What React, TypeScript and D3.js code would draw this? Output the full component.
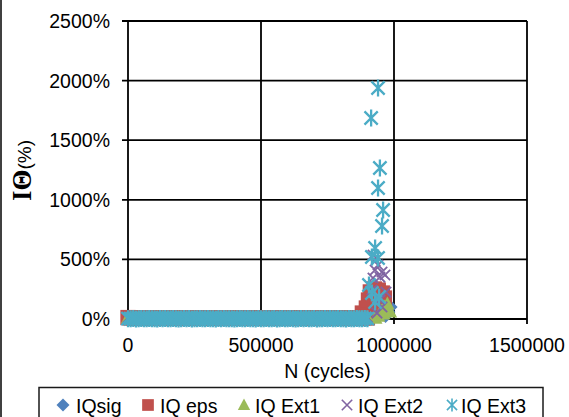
import React from "react";
import * as d3 from "d3";

const W = 569;
const H = 417;

const seriesNames = ["IQsig", "IQ eps", "IQ Ext1", "IQ Ext2", "IQ Ext3"];
const seriesColors = ["#4F81BD", "#C0504D", "#9BBB59", "#8064A2", "#4BACC6"];
const seriesShapes = ["diamond", "square", "triangle", "x", "asterisk"];

const xTicks = [0, 500000, 1000000, 1500000];
const yTicks = [0, 500, 1000, 1500, 2000, 2500];

// cycles sampled before failure (shared by all series)
const bandCycles = [
  0, 10000, 20000, 30000, 40000, 50000, 60000, 70000, 80000, 90000,
  100000, 110000, 120000, 130000, 140000, 150000, 160000, 170000, 180000, 190000,
  200000, 210000, 220000, 230000, 240000, 250000, 260000, 270000, 280000, 290000,
  300000, 310000, 320000, 330000, 340000, 350000, 360000, 370000, 380000, 390000,
  400000, 410000, 420000, 430000, 440000, 450000, 460000, 470000, 480000, 490000,
  500000, 510000, 520000, 530000, 540000, 550000, 560000, 570000, 580000, 590000,
  600000, 610000, 620000, 630000, 640000, 650000, 660000, 670000, 680000, 690000,
  700000, 710000, 720000, 730000, 740000, 750000, 760000, 770000, 780000, 790000,
  800000, 810000, 820000, 830000, 840000, 850000, 860000, 870000, 880000, 890000,
  900000,
];

const sigBand = [
  8, 10, 7, 12, 9, 11, 6, 10, 8, 13,
  9, 7, 11, 10, 8, 12, 9, 6, 10, 11,
  8, 9, 12, 7, 10, 8, 11, 9, 13, 10,
  7, 9, 11, 8, 10, 12, 9, 7, 10, 8,
  11, 13, 9, 10, 8, 7, 11, 10, 9, 12,
  8, 10, 7, 11, 9, 8, 12, 10, 9, 11,
  7, 8, 10, 13, 9, 11, 8, 10, 7, 9,
  12, 10, 8, 11, 9, 10, 7, 12, 8, 9,
  11, 10, 13, 8, 9, 10, 7, 11, 12, 9,
  10,
];
const epsBand = [
  12, 9, 10, 8, 9, 10, 11, 9, 8, 9,
  10, 9, 8, 9, 10, 11, 9, 10, 8, 9,
  10, 11, 9, 8, 10, 9, 10, 9, 8, 9,
  10, 11, 9, 8, 10, 9, 11, 10, 9, 8,
  10, 11, 9, 10, 8, 9, 10, 11, 9, 8,
  10, 9, 11, 10, 9, 8, 10, 11, 9, 10,
  8, 9, 11, 10, 9, 8, 10, 11, 9, 10,
  8, 9, 10, 11, 9, 8, 10, 9, 11, 10,
  9, 8, 10, 11, 9, 10, 8, 9, 10, 11,
  9,
];
const ext1Band = [
  10, 8, 12, 9, 13, 9, 11, 7, 12, 10,
  9, 12, 9, 13, 8, 11, 10, 12, 9, 12,
  9, 13, 8, 11, 10, 12, 9, 12, 9, 11,
  8, 10, 13, 9, 12, 9, 11, 10, 13, 9,
  12, 9, 10, 12, 8, 11, 9, 13, 10, 9,
  11, 12, 9, 8, 12, 10, 9, 13, 11, 9,
  12, 8, 10, 12, 9, 11, 9, 13, 10, 12,
  9, 11, 12, 9, 10, 8, 12, 13, 9, 11,
  10, 9, 12, 9, 12, 11, 8, 10, 13, 9,
  11,
];
const ext2Band = [
  12, 9, 14, 10, 13, 8, 11, 15, 10, 12,
  9, 13, 11, 14, 8, 12, 10, 15, 11, 9,
  13, 10, 12, 8, 14, 11, 9, 13, 12, 10,
  11, 14, 9, 12, 10, 13, 8, 11, 15, 10,
  12, 9, 13, 11, 10, 14, 12, 8, 11, 13,
  10, 12, 15, 9, 11, 13, 10, 12, 8, 14,
  11, 10, 13, 12, 9, 14, 11, 10, 12, 13,
  9, 11, 14, 10, 12, 8, 13, 11, 10, 15,
  12, 10, 9, 13, 11, 14, 10, 12, 9, 11,
  13,
];
const ext3Band = [
  3, 2, 4, 1, 3, 5, 2, 3, 4, 2,
  3, 1, 4, 2, 5, 3, 2, 4, 3, 1,
  2, 4, 3, 5, 1, 3, 2, 4, 2, 3,
  4, 2, 3, 1, 5, 3, 4, 2, 3, 2,
  1, 3, 4, 2, 3, 5, 2, 3, 1, 4,
  3, 2, 5, 3, 2, 4, 1, 3, 4, 2,
  3, 4, 2, 1, 3, 5, 2, 4, 3, 2,
  4, 1, 3, 2, 4, 3, 5, 2, 3, 4,
  2, 3, 1, 4, 3, 2, 5, 3, 2, 4,
  3,
];

// points around failure
const sigFailCycles = [905000, 930000, 950000, 968000, 979000, 987000];
const sigFailValues = [20, 35, 50, 25, 59, 101];

const epsFailCycles = [881000, 896000, 904000, 911000, 920000, 926000, 935000, 941000, 949000, 956000, 960000, 964000];
const epsFailValues = [50, 92, 159, 227, 200, 252, 180, 243, 92, 218, 134, 176];

const ext1FailCycles = [930000, 941000, 952000, 960000, 964000, 971000, 975000, 985000];
const ext1FailValues = [8, 25, 67, 42, 101, 76, 126, 60];

const ext2FailCycles = [917000, 921000, 921000, 929000, 936000, 940000, 947000, 947000, 955000, 955000, 966000, 970000];
const ext2FailValues = [243, 537, 344, 411, 50, 453, 352, 159, 394, 101, 369, 226];

const ext3FailCycles = [906000, 914000, 917000, 917000, 929000, 929000, 940000, 940000, 940000, 944000, 947000, 955000, 959000];
const ext3FailValues = [285, 1686, 520, 218, 596, 143, 512, 1938, 1099, 185, 1267, 780, 914];

const bands = [sigBand, epsBand, ext1Band, ext2Band, ext3Band];
const failCycles = [sigFailCycles, epsFailCycles, ext1FailCycles, ext2FailCycles, ext3FailCycles];
const failValues = [sigFailValues, epsFailValues, ext1FailValues, ext2FailValues, ext3FailValues];

const FONT = "'Liberation Sans', Arial, sans-serif";

function Marker({ shape, color, cx, cy, s, sw }: { shape: string; color: string; cx: number; cy: number; s: number; sw?: number }) {
  const r = s / 2;
  if (shape === "diamond") {
    return <path d={`M${cx},${cy - r}L${cx + r},${cy}L${cx},${cy + r}L${cx - r},${cy}Z`} fill={color} />;
  }
  if (shape === "square") {
    const h = r * 0.9;
    return <rect x={cx - h} y={cy - h} width={2 * h} height={2 * h} fill={color} />;
  }
  if (shape === "triangle") {
    return <path d={`M${cx},${cy - r}L${cx + r * 0.95},${cy + r * 0.75}L${cx - r * 0.95},${cy + r * 0.75}Z`} fill={color} />;
  }
  if (shape === "x") {
    const a = r * 0.8;
    return (
      <path
        d={`M${cx - a},${cy - a}L${cx + a},${cy + a}M${cx - a},${cy + a}L${cx + a},${cy - a}`}
        stroke={color}
        strokeWidth={sw ?? 1.8}
        fill="none"
      />
    );
  }
  const a = r * 0.78;
  return (
    <path
      d={`M${cx - a},${cy - a}L${cx + a},${cy + a}M${cx - a},${cy + a}L${cx + a},${cy - a}M${cx},${cy - r}L${cx},${cy + r}`}
      stroke={color}
      strokeWidth={sw ?? 2.3}
      fill="none"
    />
  );
}

export default function App() {
  const x = d3.scaleLinear().domain([0, 1500000]).range([128, 527]);
  const y = d3.scaleLinear().domain([0, 2500]).range([319, 21]);

  const markerSizes = [14, 17, 15, 13, 17];

  const series = seriesNames.map((name, i) => {
    const pts: { c: number; v: number }[] = [];
    const band = bands[i];
    const n = Math.min(band.length, bandCycles.length);
    for (let k = 0; k < n; k++) pts.push({ c: bandCycles[k], v: band[k] });
    const fc = failCycles[i];
    const fv = failValues[i];
    for (let k = 0; k < Math.min(fc.length, fv.length); k++) pts.push({ c: fc[k], v: fv[k] });
    return { name, color: seriesColors[i], shape: seriesShapes[i], pts, size: markerSizes[i] };
  });

  const legendX = [63, 148, 244, 347, 452];
  const legendTextX = [76, 160, 255, 358, 461];

  return (
    <svg
      width={W}
      height={H}
      style={{ position: "absolute", left: 0, top: 0, background: "#fff" }}
      fontFamily={FONT}
    >
      <rect x={0} y={0} width={W} height={H} fill="#fff" />
      <line x1={1} y1={0} x2={1} y2={H} stroke="#404040" strokeWidth={2} />

      {/* horizontal gridlines + ticks */}
      {yTicks.map((t) => (
        <g key={"y" + t}>
          <line x1={122} x2={x(1500000)} y1={y(t)} y2={y(t)} stroke="#000" strokeWidth={1.8} />
          <text x={110} y={y(t)} dy="0.36em" textAnchor="end" fontSize={19.5} fill="#000">
            {t}%
          </text>
        </g>
      ))}
      {/* vertical gridlines + ticks */}
      {xTicks.map((t) => (
        <g key={"x" + t}>
          <line x1={x(t)} x2={x(t)} y1={y(2500)} y2={324} stroke="#000" strokeWidth={1.8} />
          <text x={x(t)} y={352} textAnchor="middle" fontSize={19.5} fill="#000">
            {t}
          </text>
        </g>
      ))}

      {/* data */}
      {series.map((s) => (
        <g key={s.name}>
          {s.pts.map((p, k) => (
            <Marker key={k} shape={s.shape} color={s.color} cx={x(p.c)} cy={y(p.v)} s={s.size} />
          ))}
        </g>
      ))}

      {/* axis titles */}
      <text x={(x(0) + x(1500000)) / 2} y={378} textAnchor="middle" fontSize={19.5} fill="#000">
        N (cycles)
      </text>
      <text transform="translate(31,201) rotate(-90)" textAnchor="start" fill="#000">
        <tspan fontFamily="'Liberation Serif', 'Times New Roman', serif" fontWeight="bold" fontSize={27}>
          IΘ
        </tspan>
        <tspan fontFamily={FONT} fontSize={19}>(%)</tspan>
      </text>

      {/* legend */}
      <rect x={39} y={387.5} width={504} height={40} fill="#fff" stroke="#1a1a1a" strokeWidth={1.5} />
      {series.map((s, i) => (
        <g key={"lg" + i}>
          <Marker shape={s.shape} color={s.color} cx={legendX[i]} cy={405} s={13} sw={1.6} />
          <text x={legendTextX[i]} y={413} fontSize={19.5} fill="#000">
            {s.name}
          </text>
        </g>
      ))}
    </svg>
  );
}
